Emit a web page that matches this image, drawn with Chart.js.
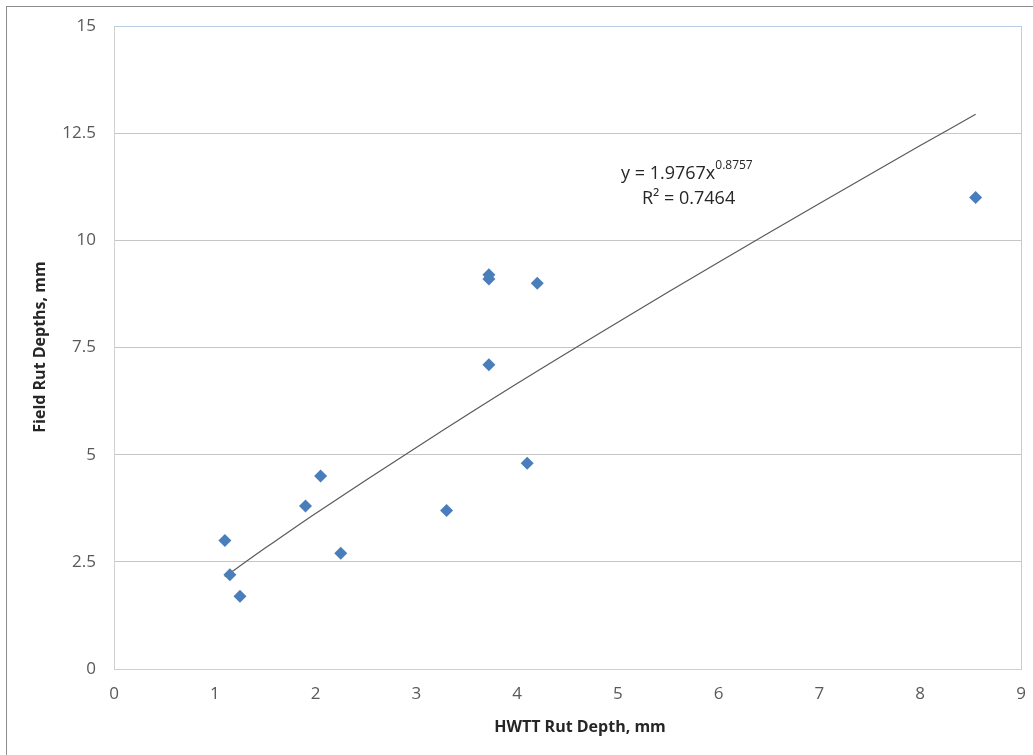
<!DOCTYPE html>
<html>
<head>
<meta charset="utf-8">
<script src="https://cdn.jsdelivr.net/npm/chart.js@4.4.1/dist/chart.umd.min.js"></script>
<style>
  html, body { margin: 0; padding: 0; background: #fff; overflow: hidden; }
  #frame {
    position: absolute; left: 6px; top: 6px; width: 1100px; height: 800px;
    border-left: 1px solid #8c8c8c; border-top: 1px solid #8c8c8c;
  }
  #wrap { position: absolute; left: 0; top: 0; width: 1033px; height: 755px; }
</style>
</head>
<body>
<div id="frame"></div>
<div id="wrap"><canvas id="chart" width="1033" height="755"></canvas></div>
<script>
// Measured points: HWTT rut depth (x) vs field rut depth (y), mm
const hwttDepth  = [1.1, 1.15, 1.25, 1.9, 2.05, 2.25, 3.3, 3.72, 3.72, 3.72, 4.1, 4.2, 8.55];
const fieldDepth = [3.0, 2.2, 1.7, 3.8, 4.5, 2.7, 3.7, 9.2, 9.1, 7.1, 4.8, 9.0, 11.0];

// Power trendline as drawn on the chart
const trendX = [1.1, 1.5, 2, 3, 4, 5, 6, 7, 8, 8.55];
const trendY = [2.15, 2.82, 3.63, 5.17, 6.66, 8.09, 9.49, 10.86, 12.21, 12.94];

const xTicks = [0, 1, 2, 3, 4, 5, 6, 7, 8, 9];
const yTicks = [0, 2.5, 5, 7.5, 10, 12.5, 15];

const FONT = "'Open Sans', sans-serif";

// Axis titles and the trendline label
const labelsPlugin = {
  id: "labels",
  afterDraw(chart) {
    const ctx = chart.ctx;
    ctx.save();
    ctx.fillStyle = "#262626";
    ctx.font = "bold 16px " + FONT;
    ctx.textAlign = "center";
    ctx.textBaseline = "middle";
    ctx.fillText("HWTT Rut Depth, mm", 580, 727);
    ctx.translate(40, 347);
    ctx.rotate(-Math.PI / 2);
    ctx.fillText("Field Rut Depths, mm", 0, 0);
    ctx.restore();

    ctx.save();
    ctx.fillStyle = "#262626";
    ctx.textBaseline = "alphabetic";
    ctx.textAlign = "left";
    ctx.font = "18px " + FONT;
    const main = "y = 1.9767x";
    ctx.fillText(main, 621, 179);
    const w = ctx.measureText(main).width;
    ctx.font = "12px " + FONT;
    ctx.fillText("0.8757", 621 + w, 169);
    ctx.font = "18px " + FONT;
    ctx.fillText("R\u00b2 = 0.7464", 642, 204);
    ctx.restore();
  }
};

new Chart(document.getElementById("chart"), {
  type: "scatter",
  data: {
    datasets: [
      {
        label: "Trend",
        type: "line",
        data: trendX.map((x, i) => ({ x, y: trendY[i] })),
        borderColor: "#5a5a5a",
        borderWidth: 1.2,
        pointRadius: 0,
        fill: false,
        tension: 0.3,
        order: 2
      },
      {
        label: "Rut depth",
        data: hwttDepth.map((x, i) => ({ x, y: fieldDepth[i] })),
        pointStyle: "rectRot",
        pointRadius: 6.5,
        backgroundColor: "#4a7ebb",
        borderColor: "#4a7ebb",
        borderWidth: 0,
        order: 1
      }
    ]
  },
  options: {
    responsive: false,
    animation: false,
    layout: { padding: { top: 26, right: 12, left: 0, bottom: 0 } },
    plugins: { legend: { display: false }, tooltip: { enabled: false } },
    scales: {
      x: {
        type: "linear",
        min: 0,
        max: 9,
        afterBuildTicks: (s) => { s.ticks = xTicks.map(v => ({ value: v })); },
        afterFit: (s) => {
          s.height = 755 - 669;
          s.paddingLeft = 0;
          s.paddingRight = 0;
        },
        grid: {
          drawTicks: false,
          color: (c) => (c.tick && c.tick.value === 9 ? "#b9cde5" : "rgba(0,0,0,0)")
        },
        border: { color: "#d0d0d0", width: 1 },
        ticks: { color: "#595959", font: { family: FONT, size: 17 }, padding: 15 }
      },
      y: {
        min: 0,
        max: 15,
        afterBuildTicks: (s) => { s.ticks = yTicks.map(v => ({ value: v })); },
        afterFit: (s) => {
          s.width = 114;
          s.paddingTop = 0;
          s.paddingBottom = 0;
        },
        grid: {
          drawTicks: false,
          color: (c) => (c.tick && c.tick.value === 15 ? "#b9cde5" : "#c6c6c6")
        },
        border: { color: "#d0d0d0", width: 1 },
        ticks: { color: "#595959", font: { family: FONT, size: 17 }, padding: 18 }
      }
    }
  },
  plugins: [labelsPlugin]
});
</script>
</body>
</html>
